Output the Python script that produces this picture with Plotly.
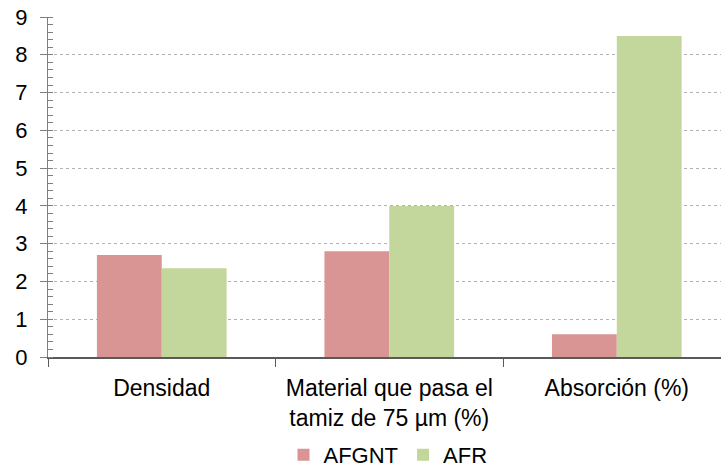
import plotly.graph_objects as go

categories = ["Densidad", "Material que pasa el<br>tamiz de 75 µm (%)", "Absorción (%)"]
afgnt = [2.7, 2.8, 0.6]
afr = [2.35, 4.0, 8.5]
y_ticks = list(range(0, 10))

fig = go.Figure()
fig.add_trace(go.Bar(x=categories, y=afgnt, name="AFGNT", marker=dict(color="#D99594", line=dict(width=0))))
fig.add_trace(go.Bar(x=categories, y=afr, name="AFR", marker=dict(color="#C3D69B", line=dict(width=0))))

fig.update_layout(
    width=721, height=472,
    margin=dict(l=48, r=0, t=17, b=115),
    paper_bgcolor="white", plot_bgcolor="white",
    font=dict(family="Liberation Sans, Arial, sans-serif", size=22, color="#000"),
    barmode="group", bargap=0.43, bargroupgap=0,
    showlegend=True,
    legend=dict(orientation="h", xref="container", yref="container",
                x=388 / 721, xanchor="center", y=1 - 455 / 472, yanchor="middle",
                font=dict(size=22), itemwidth=30, traceorder="normal"),
    xaxis=dict(range=[-0.5, 2.458], showgrid=False, showline=True, linecolor="#595959", linewidth=1.5,
               ticks="outside", tickson="boundaries", ticklen=8, tickcolor="#595959",
               ticklabelstandoff=10,
               tickfont=dict(size=23), automargin=False),
    yaxis=dict(range=[0, 9], tickvals=y_ticks, showgrid=True, gridcolor="#b3b3b3", griddash="dot",
               gridwidth=1, showline=True, linecolor="#7f7f7f", linewidth=1,
               ticks="outside", ticklen=7, tickcolor="#7f7f7f", zeroline=False,
               ticklabelstandoff=8,
               minor=dict(dtick=0.2, ticks="inside", ticklen=5, tickcolor="#7f7f7f", showgrid=False),
               tickfont=dict(size=22), automargin=False),
)
fig.write_html("out.html", config={"displayModeBar": False},
               post_script="document.body.style.margin='0';")
